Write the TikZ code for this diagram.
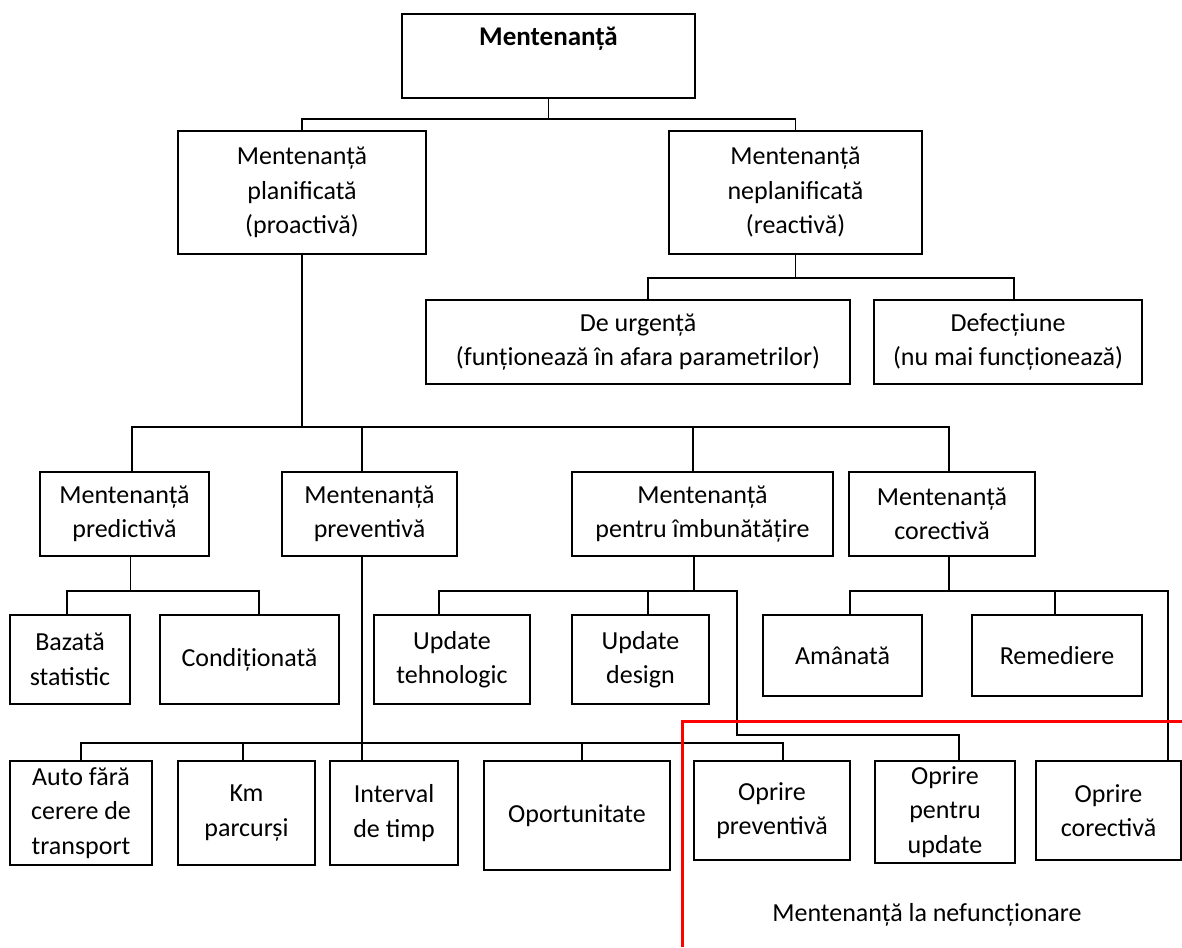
\documentclass[tikz,border=0pt]{standalone}
\usepackage{fontspec}
\setmainfont{Carlito}
\begin{document}
\begin{tikzpicture}[x=1pt,y=-1pt,
  box/.style={draw, line width=1.8pt, align=center, inner sep=2pt, font=\fontsize{26}{34.5}\selectfont},
  link/.style={line width=1.4pt}]
\useasboundingbox (0,0) rectangle (1182,947);

% root
\node[box, minimum width=293, minimum height=84,
  label={[font=\bfseries\fontsize{27}{34}\selectfont, anchor=north, yshift=-10pt]north:Mentenanță}] (mnt) at (548.5,56) {};

% planned / unplanned
\node[box, minimum width=248, minimum height=123] (plan) at (302,192.5) {Mentenanță\\planificată\\(proactivă)};
\node[box, minimum width=253, minimum height=123] (neplan) at (795.5,192.5) {Mentenanță\\neplanificată\\(reactivă)};
\node[box, minimum width=424, minimum height=84] (urg) at (638,342) {De urgență\\(funționează în afara parametrilor)};
\node[box, minimum width=268, minimum height=84] (def) at (1008,342) {Defecțiune\\(nu mai funcționează)};

% planned types
\node[box, minimum width=169, minimum height=84] (pred) at (124.5,514) {Mentenanță\\predictivă};
\node[box, minimum width=175, minimum height=84] (prev) at (369.5,514) {Mentenanță\\preventivă};
\node[box, minimum width=261, minimum height=84] (imb) at (702.5,514) {Mentenanță\\pentru îmbunătățire};
\node[box, minimum width=186, minimum height=84] (cor) at (942,514) {Mentenanță\\corectivă};

% sub types
\node[box, minimum width=120, minimum height=89] (baz) at (70,659.5) {Bazată\\statistic};
\node[box, minimum width=179, minimum height=89] (cond) at (249.5,659.5) {Condiționată};
\node[box, minimum width=156, minimum height=89] (updt) at (452,659.5) {Update\\tehnologic};
\node[box, minimum width=137, minimum height=89] (upd) at (640.5,659.5) {Update\\design};
\node[box, minimum width=159, minimum height=81] (aman) at (842.5,655.5) {Amânată};
\node[box, minimum width=170, minimum height=81] (rem) at (1057,655.5) {Remediere};

% bottom row
\node[box, minimum width=142, minimum height=104] (auto) at (81,813) {Auto fără\\cerere de\\transport};
\node[box, minimum width=137, minimum height=104] (km) at (246.5,813) {Km\\parcurși};
\node[box, minimum width=128, minimum height=104] (intv) at (394,813) {Interval\\de timp};
\node[box, minimum width=186, minimum height=109] (oport) at (577,815.5) {Oportunitate};
\node[box, minimum width=156, minimum height=99] (opp) at (772,810.5) {Oprire\\preventivă};
\node[box, minimum width=140, minimum height=102] (opu) at (945,812) {Oprire\\pentru\\update};
\node[box, minimum width=145, minimum height=99] (opc) at (1108.5,810.5) {Oprire\\corectivă};

% links
\draw[link] (mnt.south) -- ++(0,20) coordinate (f0);
\draw[link] (f0) -| (plan.north);
\draw[link] (f0) -| (neplan.north);

\draw[link] (neplan.south) -- ++(0,23) coordinate (f1);
\draw[link] (f1) -| ([xshift=10]urg.north);
\draw[link] (f1) -| ([xshift=6]def.north);

\draw[link] (plan.south) -- ++(0,172) coordinate (f2);
\draw[link] (f2) -| ([xshift=7.5]pred.north);
\draw[link] (f2) -| ([xshift=-7.5]prev.north);
\draw[link] (f2) -| ([xshift=-9.5]imb.north);
\draw[link] (f2) -| ([xshift=7]cor.north);

\draw[link] ([xshift=6]pred.south) -- ++(0,34) coordinate (f3);
\draw[link] (f3) -| ([xshift=-3]baz.north);
\draw[link] (f3) -| ([xshift=9.5]cond.north);

\draw[link] ([xshift=-8.5]imb.south) -- ++(0,34) coordinate (f4);
\draw[link] (f4) -| ([xshift=-13]updt.north);
\draw[link] (f4) -| ([xshift=7.5]upd.north);
\draw[link] (f4) -| ++(43,144) -| ([xshift=14]opu.north);

\draw[link] ([xshift=7]cor.south) -- ++(0,34) coordinate (f5);
\draw[link] (f5) -| ([xshift=7.5]aman.north);
\draw[link] (f5) -| ([xshift=-2]rem.north);
\draw[link] (f5) -| ([xshift=59.5]opc.north);

\draw[link] ([xshift=-7.5]prev.south) -- ([xshift=-32]intv.north);
\path ([xshift=-7.5]prev.south) ++(0,186) coordinate (f6);
\draw[link] (f6) -| (auto.north);
\draw[link] (f6) -| ([xshift=-3.5]km.north);
\draw[link] (f6) -| ([xshift=5]oport.north);
\draw[link] (f6) -| ([xshift=11]opp.north);

% downtime zone
\draw[red, line width=3pt] (682,947) |- (1182,721);
\node[font=\fontsize{26}{34.5}\selectfont] (lbl) at (927,915) {Mentenanță la nefuncționare};

\end{tikzpicture}
\end{document}
